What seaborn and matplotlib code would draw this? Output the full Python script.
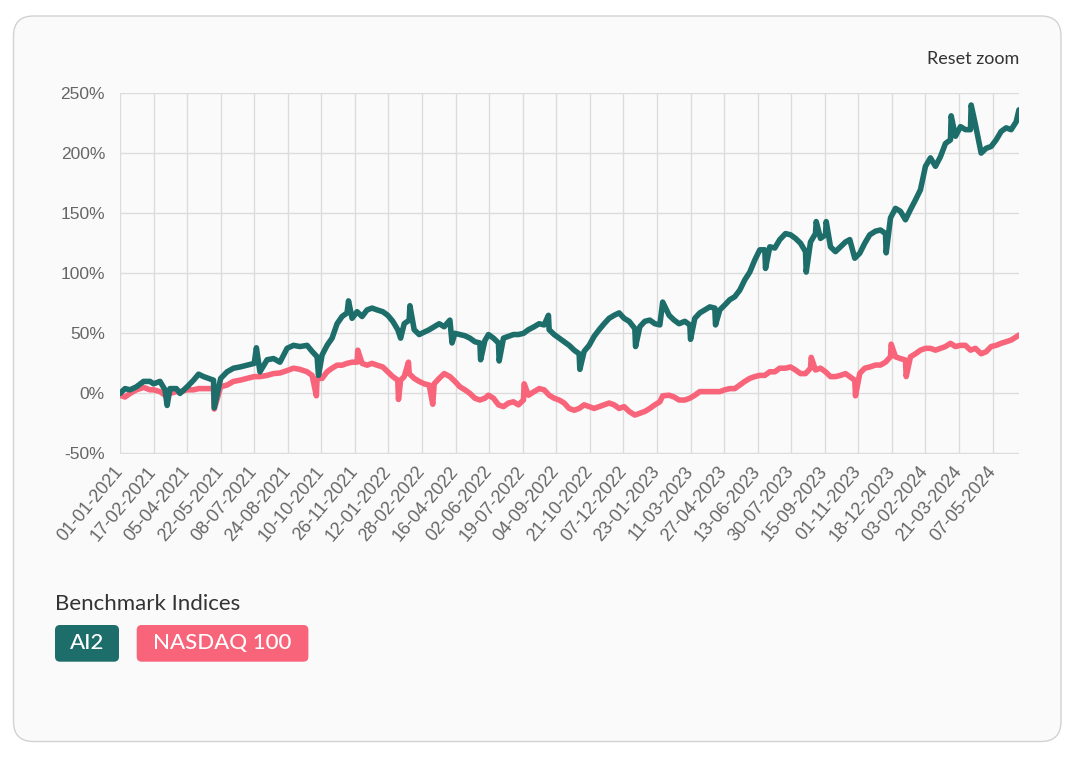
import matplotlib
matplotlib.use('Agg')
import matplotlib.pyplot as plt
from matplotlib.patches import FancyBboxPatch
import pandas as pd
import seaborn as sns

# days since 01-01-2021
day_offset = [0, 7, 14, 23, 33, 42, 47, 56, 63, 70, 79, 84, 94, 103, 110, 117, 124, 131, 141, 150,
              159, 168, 178, 188, 196, 206, 215, 224, 234, 243, 252,
              262, 269, 276, 283, 290, 297, 304, 311, 318, 325, 332, 339, 346, 353, 360, 368, 375, 382,
              389, 393, 398, 405, 412, 419, 426, 433, 440, 447, 454, 462, 469, 476, 483, 490, 497, 504, 511,
              516, 523, 530, 537, 544, 551, 558, 565, 572, 580, 587, 594, 601, 608, 615, 622, 629, 636,
              643, 650, 657, 664, 671, 678, 685, 692, 699, 706, 713, 721, 728, 735, 742, 749, 756, 760,
              769, 776, 783, 791, 798, 805, 812, 819, 826, 833, 840, 847, 854, 861, 868, 875, 882, 889,
              896, 903, 910, 917, 924, 932, 939, 946, 953, 960, 967, 974, 981, 988, 995, 1002, 1009, 1016,
              1022, 1029, 1036, 1043, 1050, 1058, 1065, 1072, 1079, 1086, 1093, 1100, 1107, 1114, 1121,
              1128, 1135, 1142, 1149, 1156, 1163, 1170, 1177, 1184, 1191, 1198, 1206, 1213, 1220, 1227,
              1234, 1241, 1248, 1255, 1259]

ai2 = [0, 4, 3, 5.5, 10, 10, 8, 10, 3, 4, 4, 0, 5.5, 11, 16, 14, 12.5, 11, 12.5, 18,
       21, 22, 23.5, 25, 18, 28, 29, 26, 37.5, 40, 39,
       40, 35, 30.5, 32, 40, 46, 58, 64, 67, 62.5, 68, 64, 69.5, 71, 69.5, 68, 65, 60,
       53, 46, 58, 61, 53, 49, 51, 53, 55.5, 58, 55.5, 61, 50, 49, 48, 46, 43, 42, 44,
       49, 46, 42, 46, 47.5, 49, 49, 50, 53, 55.5, 58, 57, 53, 49, 46, 43, 40, 36,
       33, 35, 40, 47.5, 53, 58, 62.5, 65, 67, 62.5, 60, 54, 55.5, 60, 61, 58, 57, 76,
       65, 61, 58, 60, 57, 62.5, 67, 69.5, 72, 71, 69.5, 73.6, 78, 80.5, 86, 94.5, 101, 111,
       119.5, 119.5, 122, 121, 128, 133, 132, 129, 125, 118, 126, 133, 129, 132, 122, 118, 122, 126,
       128, 112.5, 116.7, 125, 132, 135, 136, 133, 146, 154, 151.5, 144.5, 153, 161, 169.5,
       189, 196, 189, 197, 208, 211, 214, 222, 219.5, 219.5, 223.6, 200, 204, 205.5, 211,
       218, 221, 219.5, 226, 236]

nasdaq = [-1.5, -3, 0, 3, 5, 3, 3, 1.5, -1.5, 0, 1.5, 1.5, 3, 3, 4, 4, 4, 4, 5.5, 7,
          10, 11, 12.5, 14, 14, 15, 16.5, 17, 19, 21, 20,
          18, 15, 12.5, 12.5, 18, 21, 23.5, 23.5, 25, 26, 26, 25, 23.5, 25, 23.5, 22, 18, 14,
          11, 11, 14, 16.5, 12.5, 10, 8, 7, 8, 12.5, 16.5, 14, 10, 5.5, 3, 0, -4, -5.5, -4,
          -1.5, -4, -9.5, -11, -8, -7, -9.5, -5.5, -1.5, 1.5, 4, 3, -1.5, -4, -5.5, -8, -12.5, -14,
          -12.5, -9.5, -11, -12.5, -11, -9.5, -8, -9.5, -12.5, -11, -15, -18, -16.5, -15, -12.5, -9.5, -7, -2,
          -1.5, -3, -5.5, -5.5, -4, -1.5, 1.5, 1.5, 1.5, 1.5, 1.5, 3, 4, 4, 7, 10, 12.5, 14,
          15, 15, 18, 18, 21, 21, 22, 19.5, 16.5, 16.5, 21, 19.5, 21, 18, 14, 14, 15, 16.5,
          14, 11, 16.7, 21, 22, 23.6, 23.6, 26, 30.5, 30.5, 29, 27.8, 30.5, 33, 36,
          37.5, 37.5, 36, 37.5, 39, 41.7, 39, 40, 40, 36, 37.5, 33, 34.7, 39, 40,
          41.7, 43, 44.4, 47, 48.6]

# single-day spikes seen on the chart
ai2_spike_days = [66, 132, 191, 278, 320, 406, 465, 505, 531, 600, 644, 722, 799, 834, 904, 961,
                  975, 989, 1073, 1164, 1192]
ai2_spike_vals = [-10, -12, 38, 15, 77, 73, 42, 28, 27, 65, 20, 39, 45, 57, 104, 101,
                  143, 143, 117, 231, 240]
nasdaq_spike_days = [132, 275, 333, 390, 404, 438, 566, 968, 1030, 1080, 1101]
nasdaq_spike_vals = [-13, -2, 36, -5, 26, -9, 8, 30, -2, 41, 14]

series_names = ['AI2', 'NASDAQ 100']
series_colors = ['#1d6e6a', '#f8647a']
y_ticks = [-50, 0, 50, 100, 150, 200, 250]
label_step = 47
n_labels = 27

start = pd.Timestamp('2021-01-01')
frames = []
for name, days, vals in [(series_names[0], day_offset + ai2_spike_days, ai2 + ai2_spike_vals),
                         (series_names[1], day_offset + nasdaq_spike_days, nasdaq + nasdaq_spike_vals)]:
    frames.append(pd.DataFrame({'date': start + pd.to_timedelta(days, unit='D'),
                                'value': vals, 'series': name}))
df = pd.concat(frames, ignore_index=True)

sns.set_style('white')
plt.rcParams['font.family'] = ['Liberation Sans', 'DejaVu Sans']

fig = plt.figure(figsize=(10.78, 7.62), dpi=100)
fig.patch.set_facecolor('white')

# card background
card = FancyBboxPatch((0.135, 0.205), 10.475, 7.255, boxstyle='round,pad=0,rounding_size=0.2',
                      transform=fig.dpi_scale_trans, facecolor='#fafafa', edgecolor='#d2d2d2',
                      lw=1, zorder=-1)
fig.patches.append(card)

ax = fig.add_axes([120 / 1078, (762 - 453.5) / 762, (1019 - 120) / 1078, (453.5 - 93) / 762])
ax.set_facecolor('none')

sns.lineplot(data=df, x='date', y='value', hue='series', hue_order=series_names[::-1],
             palette=dict(zip(series_names, series_colors)), linewidth=4, estimator=None,
             legend=False, ax=ax)

tick_dates = [start + pd.Timedelta(days=label_step * k) for k in range(n_labels)]
ax.set_xticks(tick_dates)
ax.set_xticklabels([d.strftime('%d-%m-%Y') for d in tick_dates], rotation=50, ha='right',
                   va='center', rotation_mode='anchor', fontsize=13)
ax.set_yticks(y_ticks)
ax.set_yticklabels([f'{v}%' for v in y_ticks])
ax.set_xlim(start, start + pd.Timedelta(days=day_offset[-1]))
ax.set_ylim(-50, 250)
ax.set_xlabel('')
ax.set_ylabel('')

ax.grid(True, color='#dcdcdc', lw=1)
ax.set_axisbelow(True)
for s in ax.spines.values():
    s.set_visible(False)
ax.tick_params(axis='both', length=5.8, width=1, color='#dcdcdc', labelcolor='#666666', pad=5)
ax.tick_params(axis='y', labelsize=12.5)

font2 = ['Lato', 'DejaVu Sans']
fig.text(1019 / 1078, 1 - 59 / 762, 'Reset zoom', ha='right', va='center', fontsize=13,
         color='#333333', family=font2)
fig.text(55 / 1078, 1 - 604 / 762, 'Benchmark Indices', ha='left', va='center', fontsize=16,
         color='#333333', family=font2)

# legend buttons
btn_x = [0.55, 1.367]
btn_w = [0.64, 1.717]
for name, color, x0, w in zip(series_names, series_colors, btn_x, btn_w):
    box = FancyBboxPatch((x0, 1.003), w, 0.367, boxstyle='round,pad=0,rounding_size=0.05',
                         transform=fig.dpi_scale_trans, facecolor=color, edgecolor='none')
    fig.patches.append(box)
    fig.text(x0 + w / 2, 1.187, name, transform=fig.dpi_scale_trans, ha='center', va='center',
             fontsize=16, color='white', family=font2, fontweight='medium')

fig.savefig('out.png', dpi=100, facecolor='white')
